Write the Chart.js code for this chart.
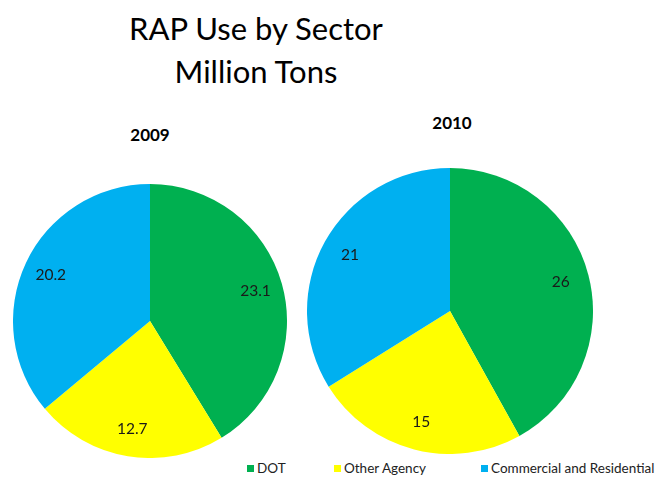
<!DOCTYPE html>
<html>
<head>
<meta charset="utf-8">
<script src="https://cdn.jsdelivr.net/npm/chart.js@4.4.1/dist/chart.umd.min.js"></script>
<style>
  html, body { margin: 0; padding: 0; background: #fff; }
  #wrap { position: relative; width: 663px; height: 487px; overflow: hidden; background: #fff; font-family: Lato, "Open Sans", sans-serif; }
  .title { position: absolute; left: 0; width: 512px; text-align: center; font-size: 31px; color: #000; line-height: 1; }
  .sub { position: absolute; width: 100px; text-align: center; font-weight: bold; font-size: 17px; color: #000; }
  canvas { position: absolute; }
  #legend { position: absolute; top: 460px; left: 0; width: 663px; height: 18px; font-size: 13.5px; color: #222; }
  .li { position: absolute; top: 0; white-space: nowrap; }
  .sw { display: inline-block; width: 7px; height: 7px; margin-right: 3px; vertical-align: 1px; }
</style>
</head>
<body>
<div id="wrap">
  <div class="title" style="top:13px;">RAP Use by Sector</div>
  <div class="title" style="top:56px;">Million Tons</div>
  <div class="sub" style="left:100px; top:124px;">2009</div>
  <div class="sub" style="left:402px; top:112px;">2010</div>
  <canvas id="c2009" width="274" height="274" style="left:13px; top:184px; width:274px; height:274px;"></canvas>
  <canvas id="c2010" width="286" height="286" style="left:307px; top:168px; width:286px; height:286px;"></canvas>
  <div id="legend"></div>
</div>
<script>
const categories = ["DOT", "Other Agency", "Commercial and Residential"];
const years = ["2009", "2010"];
const values2009 = [23.1, 12.7, 20.2];
const values2010 = [26, 15, 21];
const colors = ["#00B050", "#FFFF00", "#00B0F0"];

const labelPlugin = {
  id: 'sliceLabels',
  afterDatasetsDraw(chart) {
    const ctx = chart.ctx;
    const meta = chart.getDatasetMeta(0);
    const data = chart.data.datasets[0].data;
    ctx.save();
    ctx.font = '15.5px Lato, "Open Sans", sans-serif';
    ctx.fillStyle = '#1a1a1a';
    ctx.textAlign = 'center';
    ctx.textBaseline = 'middle';
    meta.data.forEach((arc, i) => {
      const p = arc.getProps(['x', 'y', 'startAngle', 'endAngle', 'outerRadius'], true);
      const mid = (p.startAngle + p.endAngle) / 2;
      const r = p.outerRadius * 0.8;
      ctx.fillText(String(data[i]), p.x + Math.cos(mid) * r, p.y + Math.sin(mid) * r);
    });
    ctx.restore();
  }
};

function makePie(id, values) {
  return new Chart(document.getElementById(id), {
    type: 'pie',
    data: {
      labels: categories,
      datasets: [{ data: values, backgroundColor: colors, borderWidth: 0 }]
    },
    options: {
      responsive: false,
      animation: false,
      layout: { padding: 0 },
      plugins: { legend: { display: false }, tooltip: { enabled: false }, title: { display: false } }
    },
    plugins: [labelPlugin]
  });
}
makePie('c2009', values2009);
makePie('c2010', values2010);

const legendPos = [247, 334, 481];
const legend = document.getElementById('legend');
categories.forEach((c, i) => {
  const d = document.createElement('div');
  d.className = 'li';
  d.style.left = legendPos[i] + 'px';
  d.innerHTML = '<span class="sw" style="background:' + colors[i] + '"></span>' + c;
  legend.appendChild(d);
});
</script>
</body>
</html>
